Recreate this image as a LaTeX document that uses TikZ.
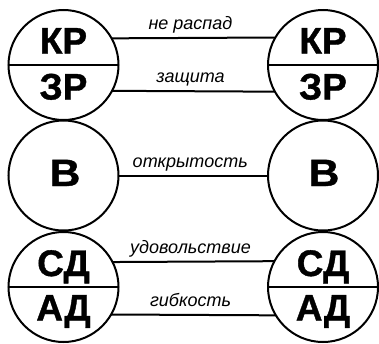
\documentclass[tikz,border=0pt]{standalone}
\usepackage{fontspec}
\setmainfont{Liberation Sans}
\newfontfamily\heavyfont[FakeBold=1]{Liberation Sans Bold}
\newcommand{\widechar}[1]{\scalebox{1.12}[1]{#1}}
\begin{document}
\begin{tikzpicture}[x=1pt,y=-1pt,
  ring/.style={circle, draw, line width=2pt, minimum size=110pt, inner sep=0pt, outer sep=0pt},
  big/.style={font=\fontsize{37}{37}\heavyfont, anchor=base, inner sep=0pt},
  bigger/.style={big, font=\fontsize{38}{38}\heavyfont},
  lbl/.style={font=\fontsize{18}{18}\selectfont\itshape, anchor=base, inner sep=0pt, yshift=8.5pt, xshift=-3pt},
  link/.style={line width=2pt}]
\useasboundingbox (0,0) rectangle (379,343);

% circles: left column and right column
\node[ring] (L1) at (63.5,65) {};
\node[ring] (R1) at (323,65) {};
\node[ring] (L2) at (63.5,175.5) {};
\node[ring] (R2) at (323,175.5) {};
\node[ring] (L3) at (63.5,287) {};
\node[ring] (R3) at (323,287) {};

% horizontal dividers of the split circles
\foreach \c in {L1,R1,L3,R3}
  \draw[link] (\c.west) -- (\c.east);

% letters inside the circles
\node[big] (kl) at (63.5,53.5) {КР};
\node[big] (zl) at (63.5,99.5) {ЗР};
\node[big] (kr) at (323,53.5) {КР};
\node[big] (zr) at (323,99.5) {ЗР};
\node[bigger] (bl) at (65,186) {\widechar{В}};
\node[bigger] (br) at (324,186) {\widechar{В}};
\node[big] (sl) at (63.5,276) {СД};
\node[big] (al) at (63.5,320.5) {АД};
\node[big] (sr) at (323,276) {СД};
\node[big] (ar) at (323,320.5) {АД};

% connectors with their labels
\draw[link] (L1.29.4) -- node[lbl] {не распад} (R1.150.6);
\draw[link] (L1.-28.2) -- node[lbl] {защита} (R1.-151.8);
\draw[link] (L2.east) -- node[lbl] {открытость} (R2.west);
\draw[link] (L3.27.6) -- node[lbl] {удовольствие} (R3.152.4);
\draw[link] (L3.-30.6) -- node[lbl] {гибкость} (R3.-149.4);
\end{tikzpicture}
\end{document}
